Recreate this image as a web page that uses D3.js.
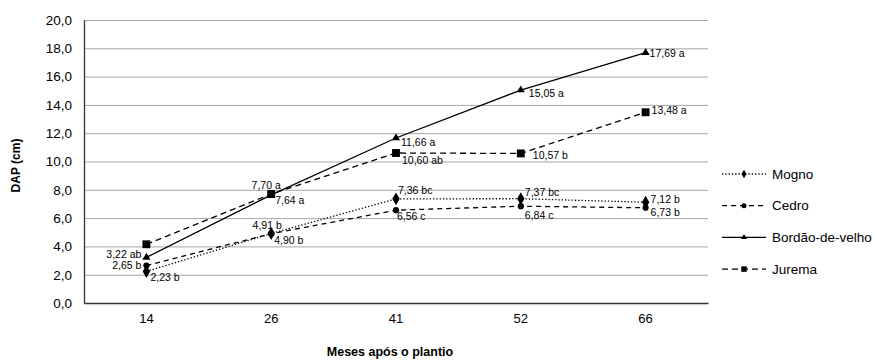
<!DOCTYPE html>
<html>
<head>
<meta charset="utf-8">
<script src="https://cdn.jsdelivr.net/npm/d3@7"></script>
<style>
body{margin:0;background:#fff;}
svg{display:block;font-family:"Liberation Sans",Arial,sans-serif;}
</style>
</head>
<body>
<svg id="chart"></svg>
<script>
//data
var months=["14","26","41","52","66"];
var seriesNames=["Mogno","Cedro","Bordão-de-velho","Jurema"];
var mogno=[2.23,4.91,7.36,7.37,7.12];
var cedro=[2.65,4.90,6.56,6.84,6.73];
var bordao=[3.22,7.64,11.66,15.05,17.69];
var jurema=[4.15,7.70,10.60,10.57,13.48];
var mognoLetters=["b","b","bc","bc","b"];
var cedroLetters=["b","b","c","c","b"];
var bordaoLetters=["ab","a","a","a","a"];
var juremaLetters=[null,"a","ab","b","a"];
var yTicks=[0,2,4,6,8,10,12,14,16,18,20];

//label placement [dx,dy,anchor]
var labelOffsets={
	"Mogno":[[4,6,"start"],[-4,-8,"middle"],[2,-9,"start"],[4,-6,"start"],[5,-3,"start"]],
	"Cedro":[[-5,0,"end"],[3,7,"start"],[1,6,"start"],[4,9,"start"],[5,5,"start"]],
	"Bordão-de-velho":[[-5,-3,"end"],[4,5,"start"],[5,4,"start"],[8,3,"start"],[4,1,"start"]],
	"Jurema":[null,[-5,-9,"middle"],[6,7,"start"],[12,2,"start"],[6,-2,"start"]]
};

var width=877,height=361;
var margin={top:20,right:169,bottom:58,left:84};

var series=[
	{name:seriesNames[0],values:mogno,letters:mognoLetters,dash:"1.3,2",symbol:d3.symbolDiamond,size:48,lsize:22},
	{name:seriesNames[1],values:cedro,letters:cedroLetters,dash:"5,4",symbol:d3.symbolCircle,size:30,lsize:20},
	{name:seriesNames[2],values:bordao,letters:bordaoLetters,dash:null,symbol:d3.symbolTriangle,size:28,lsize:14},
	{name:seriesNames[3],values:jurema,letters:juremaLetters,dash:"6,4",symbol:d3.symbolSquare,size:62,lsize:30}
];

var svg=d3.select("#chart").attr("width",width).attr("height",height);

var x=d3.scaleBand().domain(months).range([margin.left,width-margin.right]).padding(0);
var y=d3.scaleLinear().domain([0,20]).range([height-margin.bottom,margin.top]);
var fmt=function(v){return d3.format(".2f")(v).replace(".",",");};
var cx=function(i){return x(months[i])+x.bandwidth()/2;};

//gridlines
svg.append("g")
	.attr("transform","translate("+margin.left+",0)")
	.call(d3.axisLeft(y).tickValues(yTicks).tickSize(-(width-margin.right-margin.left)).tickFormat(""))
	.call(function(g){
		g.select(".domain").remove();
		g.selectAll("line").attr("stroke","#a6a6a6").attr("stroke-width",1);
	});

//y axis
svg.append("g")
	.attr("transform","translate("+margin.left+",0)")
	.call(d3.axisLeft(y).tickValues(yTicks).tickSize(0).tickPadding(12)
		.tickFormat(function(d){return d3.format(".1f")(d).replace(".",",");}))
	.call(function(g){
		g.select(".domain").attr("stroke","#333").attr("stroke-width",1.3);
		g.selectAll("text").attr("font-size","13.5px").attr("fill","#000").attr("font-family","Liberation Sans, Arial, sans-serif");
	});

//x axis
svg.append("g")
	.attr("transform","translate(0,"+(height-margin.bottom)+")")
	.call(d3.axisBottom(x).tickSize(0).tickPadding(11))
	.call(function(g){
		g.select(".domain").attr("stroke","#333").attr("stroke-width",1.3);
		g.selectAll("text").attr("font-size","13px").attr("fill","#000").attr("font-family","Liberation Sans, Arial, sans-serif");
	});

//axis titles
svg.append("text")
	.attr("transform","translate(20,"+((margin.top+height-margin.bottom)/2+4)+") rotate(-90)")
	.attr("text-anchor","middle")
	.attr("font-size","12px")
	.attr("font-weight","bold")
	.text("DAP (cm)");
svg.append("text")
	.attr("x",390)
	.attr("y",356)
	.attr("text-anchor","middle")
	.attr("font-size","12.5px")
	.attr("font-weight","bold")
	.text("Meses após o plantio");

var line=d3.line()
	.x(function(d,i){return cx(i);})
	.y(function(d){return y(d);});

series.forEach(function(s){
	var g=svg.append("g");
	g.append("path")
		.attr("d",line(s.values))
		.attr("fill","none")
		.attr("stroke","#000")
		.attr("stroke-width",1.3)
		.attr("stroke-dasharray",s.dash);
	g.selectAll("path.pt")
		.data(s.values)
		.enter().append("path")
		.attr("class","pt")
		.attr("d",d3.symbol().type(s.symbol).size(s.size))
		.attr("transform",function(d,i){return "translate("+cx(i)+","+y(d)+")";})
		.attr("fill","#000");
	g.selectAll("text")
		.data(s.values)
		.enter().append("text")
		.filter(function(d,i){return s.letters[i]!=null;})
		.attr("x",function(d){var i=s.values.indexOf(d);return cx(i)+labelOffsets[s.name][i][0];})
		.attr("y",function(d){var i=s.values.indexOf(d);return y(d)+labelOffsets[s.name][i][1];})
		.attr("dy","0.35em")
		.attr("text-anchor",function(d){return labelOffsets[s.name][s.values.indexOf(d)][2];})
		.attr("font-size","10.5px")
		.attr("fill","#000")
		.text(function(d){return fmt(d)+" "+s.letters[s.values.indexOf(d)];});
});

//legend
var legend=svg.append("g");
series.forEach(function(s,i){
	var ly=174+i*31.7;
	legend.append("line")
		.attr("x1",722).attr("x2",766)
		.attr("y1",ly).attr("y2",ly)
		.attr("stroke","#000")
		.attr("stroke-width",1.3)
		.attr("stroke-dasharray",s.dash);
	legend.append("path")
		.attr("d",d3.symbol().type(s.symbol).size(s.lsize))
		.attr("transform","translate(744,"+ly+")")
		.attr("fill","#000");
	legend.append("text")
		.attr("x",772)
		.attr("y",ly)
		.attr("dy","0.35em")
		.attr("font-size","13.5px")
		.text(s.name);
});
</script>
</body>
</html>
